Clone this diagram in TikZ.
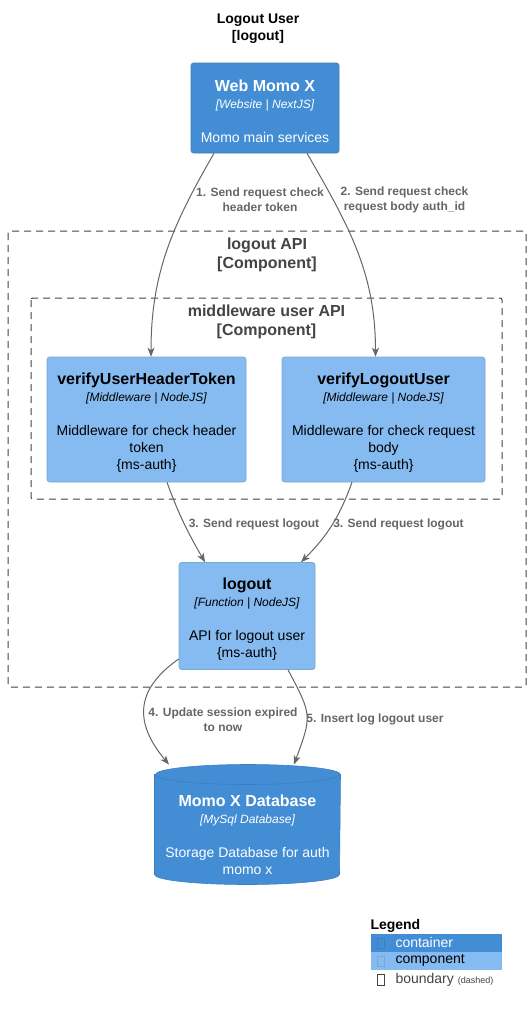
\documentclass[tikz,border=0pt]{standalone}
\usepackage{fontspec}
\setmainfont{Liberation Sans}
\usepackage{tikz}
\usetikzlibrary{arrows.meta}

\definecolor{contfill}{HTML}{438DD5}
\definecolor{contline}{HTML}{3C7FC0}
\definecolor{compfill}{HTML}{85BBF0}
\definecolor{compline}{HTML}{78A8D8}
\definecolor{bndgrey}{HTML}{444444}
\definecolor{relgrey}{HTML}{666666}

\newcommand{\elemtext}[3]{{\bfseries\fontsize{16}{17}\selectfont\rule{0pt}{17.5pt}#1}\\{\itshape\fontsize{12}{17}\selectfont #2}\\[17pt]#3}

\begin{document}
\begin{tikzpicture}[x=1pt, y=-1pt, line width=1pt,
    cont/.style={fill=contfill, draw=contline, line width=0.6pt, rounded corners=2.5pt, text=white, align=center, font=\fontsize{14}{17}\selectfont},
    comp/.style={cont, fill=compfill, draw=compline, text=black},
    bnd/.style={draw=bndgrey, rounded corners=2pt, dash pattern=on 7pt off 5pt},
    bndlabel/.style={text=bndgrey, align=center, font=\bfseries\fontsize{16}{19}\selectfont},
    rel/.style={draw=relgrey, -{Stealth[length=9pt, width=7pt, inset=2.5pt]}},
    rellabel/.style={text=relgrey, align=center, font=\bfseries\fontsize{12}{15}\selectfont},
    legtext/.style={anchor=west, inner sep=0pt, font=\fontsize{14}{17}\selectfont}]
  \useasboundingbox[fill=white] (0,0) rectangle (531,1012);

  % title
  \node[align=center, font=\bfseries\fontsize{14}{17}\selectfont] (title) at (258,28.5) {Logout User\\{}[logout]};

  % boundaries
  \draw[bnd] (8,231) rectangle (526,687);
  \node[bndlabel] (apilabel) at (267,255) {logout API\\{}[Component]};
  \draw[bnd] (31,298) rectangle (502,499);
  \node[bndlabel] (mwlabel) at (266.5,322) {middleware user API\\{}[Component]};

  % elements
  \node[cont, minimum width=148pt, minimum height=90pt] (web) at (265,108) {\elemtext{Web Momo X}{[Website | NextJS]}{Momo main services}};
  \node[comp, minimum width=199pt, minimum height=125pt] (token) at (146.5,419.5) {\elemtext{verifyUserHeaderToken}{[Middleware | NodeJS]}{Middleware for check header\\token\\\{ms-auth\}}};
  \node[comp, minimum width=203pt, minimum height=125pt] (verify) at (383.5,419.5) {\elemtext{verifyLogoutUser}{[Middleware | NodeJS]}{Middleware for check request\\body\\\{ms-auth\}}};
  \node[comp, minimum width=136pt, minimum height=107pt] (logout) at (247,616) {\elemtext{logout}{[Function | NodeJS]}{API for logout user\\\{ms-auth\}}};

  % database
  \node[minimum width=185pt, minimum height=119pt, inner sep=0pt] (db) at (247.5,824.5) {};
  \draw[contline, line width=0.6pt, fill=contfill] ([yshift=-10pt]db.north west) -- ([yshift=10pt]db.south west)
    arc[start angle=180, end angle=360, x radius=92.5pt, y radius=10pt] -- ([yshift=-10pt]db.north east)
    arc[start angle=0, end angle=180, x radius=92.5pt, y radius=10pt] -- cycle;
  \draw[contline, line width=0.6pt] ([yshift=-10pt]db.north west) arc[start angle=180, end angle=360, x radius=92.5pt, y radius=10pt];
  \node[cont, draw=none, fill=none] (dbtext) at (247.5,832) {\elemtext{Momo X Database}{[MySql Database]}{Storage Database for auth\\momo x}};

  % relations
  \draw[rel] ([xshift=-51pt]web.south) to[out=240, in=90] ([xshift=4.5pt]token.north);
  \draw[rel] ([xshift=42pt]web.south) to[out=300, in=90] ([xshift=-8pt]verify.north);
  \draw[rel] ([xshift=20.5pt]token.south) to[out=290, in=120] ([xshift=-42pt]logout.north);
  \draw[rel] ([xshift=-31.5pt]verify.south) to[out=250, in=45] ([xshift=54pt]logout.north);
  \draw[rel] ([yshift=-43pt]logout.west) to[out=215, in=130, looseness=1.3] ([xshift=-78.5pt]db.north);
  \draw[rel] ([xshift=41pt]logout.south) to[out=-62, in=70, looseness=1.4] ([xshift=46.5pt]db.north);

  \node[rellabel] (rel1) at (260,200) {1. Send request check\\header token};
  \node[rellabel] (rel2) at (404.5,200) {2. Send request check\\request body auth\_id};
  \node[rellabel] (rel3a) at (254,524) {3. Send request logout};
  \node[rellabel] (rel3b) at (398.5,524) {3. Send request logout};
  \node[rellabel] (rel4) at (223,719.5) {4. Update session expired\\to now};
  \node[rellabel] (rel5) at (375,719) {5. Insert log logout user};

  % legend
  \node[legtext, font=\bfseries\fontsize{14}{17}\selectfont] (legend) at (370,926) {Legend};
  \node[fill=contfill, minimum width=131pt, minimum height=18pt, inner sep=0pt, anchor=north west] (legcont) at (370,933) {};
  \node[fill=compfill, minimum width=131pt, minimum height=18pt, inner sep=0pt, anchor=north west] (legcomp) at (370,951) {};
  \draw[contline, line width=0.6pt] (377,938) rectangle (384,948);
  \node[legtext, text=white] (legconttext) at (395,942) {container};
  \draw[compline, line width=0.6pt] (377,956) rectangle (384,966);
  \node[legtext] (legcomptext) at (395,960) {component};
  \draw[bndgrey, line width=0.6pt] (377,974) rectangle (384,985);
  \node[legtext, text=bndgrey] (legbndtext) at (395,980) {boundary {\fontsize{9}{10}\selectfont (dashed)}};
\end{tikzpicture}
\end{document}
